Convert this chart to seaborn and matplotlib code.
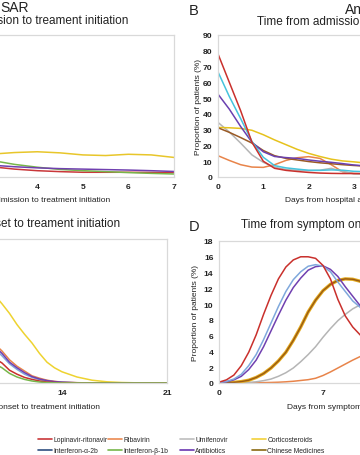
import matplotlib
matplotlib.use("Agg")
import matplotlib.pyplot as plt
from matplotlib.lines import Line2D
import seaborn as sns

# ---- data ----
drugs = ["Lopinavir-ritonavir", "Ribavirin", "Umifenovir", "Corticosteroids",
         "Interferon-α-2b", "Interferon-β-1b", "Antibiotics", "Chinese Medicines"]
legend_colors = ["#c9373a", "#eb8a52", "#bdbdbd", "#f2d13a",
                 "#2f4f80", "#77b64a", "#6a36b0", "#8a6a12"]

# A: time from admission to treatment initiation (left group)
a_days = [3, 3.5, 4, 4.5, 5, 5.5, 6, 6.5, 7]
a_cortico = [14.5, 15.5, 16.0, 15.3, 14.0, 13.6, 14.4, 14.0, 12.4]
a_ifn_b = [10.5, 8.0, 6.2, 4.8, 4.0, 3.4, 2.8, 2.3, 1.9]
a_lopinavir = [6.5, 5.0, 4.0, 3.4, 3.0, 3.0, 3.0, 2.9, 2.8]
a_antibiotics = [7.5, 6.5, 5.8, 5.3, 5.0, 4.7, 4.4, 4.0, 3.5]

# B: time from admission to treatment initiation (right group)
b_days = [0, 0.25, 0.5, 0.75, 1, 1.25, 1.5, 1.75, 2, 2.25, 2.5, 2.75, 3, 3.5, 4, 5, 6, 7]
b_lopinavir = [78, 60, 42, 22, 10, 5.5, 4.2, 3.5, 2.9, 2.5, 2.3, 2.2, 2.2, 2.1, 2.0, 1.8, 1.5, 1.2]
b_ifn_a = [66.6, 51, 37, 22.5, 12.5, 7.2, 5.8, 5.0, 4.3, 4.2, 4.5, 4.3, 3.6, 3.2, 3.0, 2.5, 2.0, 1.5]
b_antibiotics = [52.5, 43, 32, 22, 16, 13, 12.3, 11.8, 10.8, 10.0, 9.3, 8.5, 7.6, 6.5, 5.8, 5.0, 4.5, 4.0]
b_cortico = [31.4, 31.2, 30.8, 29.6, 26.8, 23.5, 20.5, 17.5, 15.0, 13.0, 11.3, 10.2, 9.6, 8.2, 7.0, 5.5, 4.5, 3.5]
b_chinese = [31.2, 28.3, 25, 21.5, 16.8, 13.5, 11.8, 10.8, 9.8, 9.0, 8.4, 7.8, 7.3, 6.5, 6.0, 5.0, 4.5, 4.0]
b_umifenovir = [34.6, 28.5, 21.5, 14, 9.3, 6.2, 4.8, 4.2, 4.0, 4.3, 5.5, 3.5, 2.0, 1.5, 1.2, 1.0, 1.0, 0.8]
b_ribavirin = [13.5, 10.5, 7.8, 6.3, 6.1, 7.8, 10.5, 12.2, 12.9, 11.8, 7.8, 3.3, 2.2, 1.8, 1.5, 1.2, 1.0, 0.8]

# C: time from symptom onset to treatment initiation (left group)
c_days = [9.5, 10, 10.5, 11, 11.5, 12, 12.5, 13, 13.5, 14, 15, 16, 17, 18, 19, 21]
c_cortico = [11.0, 9.9, 8.7, 7.3, 6.1, 5.0, 3.7, 2.6, 1.9, 1.4, 0.75, 0.35, 0.15, 0.06, 0.02, 0]
c_ribavirin = [4.9, 4.0, 2.9, 2.1, 1.5, 0.9, 0.6, 0.35, 0.2, 0.12, 0.04, 0, 0, 0, 0, 0]
c_antibiotics = [4.6, 3.7, 2.6, 1.9, 1.3, 0.8, 0.5, 0.3, 0.18, 0.1, 0.03, 0, 0, 0, 0, 0]
c_ifn_a = [4.3, 3.4, 2.4, 1.7, 1.1, 0.7, 0.42, 0.25, 0.14, 0.08, 0.02, 0, 0, 0, 0, 0]
c_lopinavir = [3.1, 2.5, 1.6, 1.1, 0.7, 0.45, 0.25, 0.12, 0.06, 0.03, 0, 0, 0, 0, 0, 0]
c_ifn_b = [2.4, 1.9, 1.2, 0.75, 0.45, 0.25, 0.12, 0.05, 0.02, 0, 0, 0, 0, 0, 0, 0]

# D: time from symptom onset to treatment initiation (right group)
d_days = [0, 0.5, 1, 1.5, 2, 2.5, 3, 3.5, 4, 4.5, 5, 5.5, 6, 6.5, 7, 7.5, 8, 8.5, 9, 9.5, 10, 11, 12, 14, 21]
d_lopinavir = [0.1, 0.4, 1.0, 2.2, 3.9, 6.1, 8.7, 11.1, 13.2, 14.7, 15.6, 16.0, 16.0, 15.8, 14.9, 13.2,
               10.6, 8.5, 7.1, 6.1, 5.2, 3.5, 2.2, 0.7, 0]
d_ifn_a = [0.05, 0.2, 0.5, 1.1, 2.2, 3.6, 5.5, 7.6, 9.7, 11.6, 13.1, 14.1, 14.8, 15.0, 14.8, 14.1,
           12.8, 11.6, 10.4, 9.6, 8.6, 6.5, 4.5, 1.8, 0]
d_antibiotics = [0.05, 0.15, 0.4, 0.85, 1.7, 2.9, 4.6, 6.6, 8.6, 10.5, 12.1, 13.3, 14.3, 14.75, 14.85,
                 14.4, 13.5, 12.2, 11.0, 9.8, 8.7, 6.6, 4.7, 1.9, 0]
d_chinese = [0, 0.03, 0.08, 0.18, 0.35, 0.7, 1.2, 1.9, 2.8, 3.9, 5.4, 7.1, 9.0, 10.5, 11.7, 12.5,
             13.0, 13.2, 13.15, 12.9, 12.3, 10.5, 8.3, 4.2, 0]
d_umifenovir = [0, 0.01, 0.02, 0.05, 0.08, 0.15, 0.3, 0.5, 0.85, 1.3, 1.9, 2.7, 3.6, 4.6, 5.8, 6.9,
                7.9, 8.7, 9.4, 9.9, 10.3, 10.6, 10.2, 7.5, 0]
d_ribavirin = [0, 0, 0, 0.01, 0.02, 0.03, 0.05, 0.07, 0.1, 0.15, 0.22, 0.32, 0.42, 0.6, 0.95, 1.4,
               1.9, 2.4, 2.9, 3.35, 3.8, 4.8, 5.6, 6.5, 0]

# ---- style ----
sns.set_theme(style="white")
plt.rcParams["font.family"] = ["Liberation Sans", "DejaVu Sans"]

W, H = 360, 456
fig = plt.figure(figsize=(W / 100, H / 100), dpi=100)
fig.patch.set_facecolor("white")
ink = "#222222"


def fx(px):
    return px / W


def fy(py):
    return 1 - py / H


def make_axes(left, right, top, bottom, xmax, xticks, ymax, ystep):
    ax = fig.add_axes([fx(left), fy(bottom), (right - left) / W, (bottom - top) / H])
    ax.set_xlim(0, xmax)
    ax.set_ylim(0, ymax)
    ax.set_xticks(xticks)
    ax.set_yticks(range(0, ymax + 1, ystep))
    for sp in ax.spines.values():
        sp.set_color("#d9d9d9")
        sp.set_linewidth(0.9)
    ax.tick_params(length=0, pad=4, labelsize=6.1, labelcolor=ink)
    for lab in ax.get_xticklabels() + ax.get_yticklabels():
        lab.set_fontweight("bold")
    ax.set_xlabel("")
    ax.set_ylabel("")
    return ax


def draw(ax, days, values, color, lw=1.1):
    sns.lineplot(x=days, y=values, ax=ax, color=color, linewidth=lw, legend=False)


ax_a = make_axes(-145, 174, 36, 178, 7, range(0, 8), 90, 10)
ax_b = make_axes(218, 535, 36, 178, 7, range(0, 8), 90, 10)
ax_c = make_axes(-148, 167, 240, 384, 21, [0, 7, 14, 21], 18, 2)
ax_d = make_axes(219, 531, 242, 384, 21, [0, 7, 14, 21], 18, 2)

# panel A
draw(ax_a, a_days, a_lopinavir, "#c9373a")
draw(ax_a, a_days, a_ifn_b, "#77b64a")
draw(ax_a, a_days, a_antibiotics, "#7040b0")
draw(ax_a, a_days, a_cortico, "#e8c62a")

# panel B
draw(ax_b, b_days, b_ribavirin, "#e8844a")
draw(ax_b, b_days, b_umifenovir, "#b5b5b5")
draw(ax_b, b_days, b_cortico, "#e6c21c")
draw(ax_b, b_days, b_chinese, "#9a5a24")
draw(ax_b, b_days, b_antibiotics, "#6a40b0")
draw(ax_b, b_days, b_ifn_a, "#45c3dd")
draw(ax_b, b_days, b_lopinavir, "#c9302c")

# panel C
draw(ax_c, c_days, c_cortico, "#eed330")
draw(ax_c, c_days, c_ribavirin, "#e8844a")
draw(ax_c, c_days, c_ifn_a, "#7fa8dc")
draw(ax_c, c_days, c_antibiotics, "#7040b0")
draw(ax_c, c_days, c_lopinavir, "#c9302c")
draw(ax_c, c_days, c_ifn_b, "#77b64a")

# panel D
draw(ax_d, d_days, d_ribavirin, "#e8844a")
draw(ax_d, d_days, d_umifenovir, "#b5b5b5")
draw(ax_d, d_days, d_chinese, "#e3aa1e", lw=2.4)
draw(ax_d, d_days, d_chinese, "#9a5a12", lw=1.0)
draw(ax_d, d_days, d_antibiotics, "#7040b0")
draw(ax_d, d_days, d_ifn_a, "#7fa8dc")
draw(ax_d, d_days, d_lopinavir, "#c9302c")

# ---- texts ----
fig.text(fx(0), fy(12), "SAR", fontsize=10, color=ink, ha="left", va="baseline")
fig.text(fx(345), fy(14), "An", fontsize=10, color=ink, ha="left", va="baseline")
fig.text(fx(189), fy(15), "B", fontsize=10.5, color=ink, ha="left", va="baseline")
fig.text(fx(189), fy(231), "D", fontsize=10.5, color=ink, ha="left", va="baseline")

fig.text(fx(128), fy(24), "Time from admission to treament initiation", fontsize=8.5,
         ha="right", va="baseline", color=ink)
fig.text(fx(257), fy(25), "Time from admission to treament initiation", fontsize=8.5,
         ha="left", va="baseline", color=ink)
fig.text(fx(120), fy(227), "Time from onset to treament initiation", fontsize=8.5,
         ha="right", va="baseline", color=ink)
fig.text(fx(241), fy(228), "Time from symptom onset to treament initiation", fontsize=8.5,
         ha="left", va="baseline", color=ink)

lab_size = 6.0
fig.text(fx(110), fy(202), "Days from hospital admission to treatment initiation",
         fontsize=lab_size, ha="right", va="baseline", color=ink)
fig.text(fx(285), fy(202), "Days from hospital admission to treatment initiation",
         fontsize=lab_size, ha="left", va="baseline", color=ink)
fig.text(fx(100), fy(409), "Days from symptom onset to treatment initiation",
         fontsize=lab_size, ha="right", va="baseline", color=ink)
fig.text(fx(287), fy(409), "Days from symptom onset to treatment initiation",
         fontsize=lab_size, ha="left", va="baseline", color=ink)

fig.text(fx(198), fy(107), "Proportion of patients (%)", fontsize=lab_size,
         rotation=90, ha="center", va="center", color=ink)
fig.text(fx(196), fy(313), "Proportion of patients (%)", fontsize=lab_size,
         rotation=90, ha="center", va="center", color=ink)

# ---- legend: four columns of two ----
col_x = [38, 108, 180, 252]
for i, x0 in enumerate(col_x):
    idx = [i, i + 4]
    handles = [Line2D([], [], color=legend_colors[j], lw=1.2) for j in idx]
    fig.legend(handles, [drugs[j] for j in idx], loc="upper left",
               bbox_to_anchor=(fx(x0), fy(437)), frameon=False, borderpad=0,
               borderaxespad=0, handlelength=2.1, handletextpad=0.15,
               labelspacing=0.65, prop={"size": 4.9})

fig.savefig("out.png", dpi=100, facecolor="white")
